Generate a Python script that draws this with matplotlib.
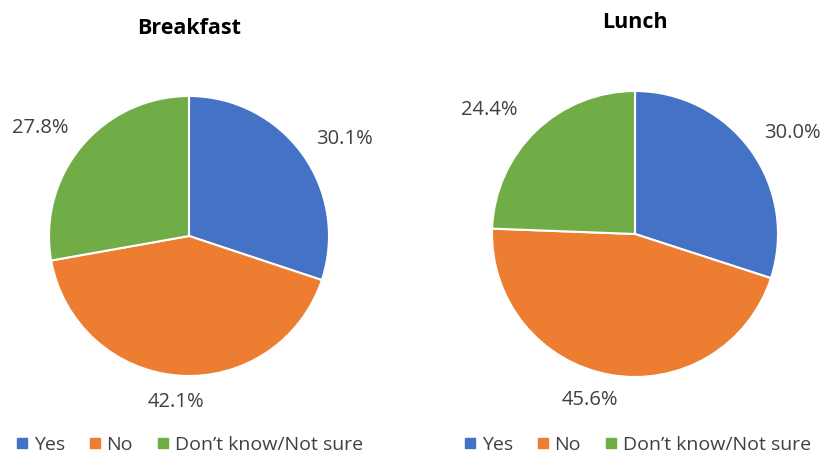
import numpy as np
import matplotlib
matplotlib.use("Agg")
import matplotlib.pyplot as plt
from matplotlib.lines import Line2D

plt.rcParams['font.family'] = ['Open Sans', 'DejaVu Sans']

categories = ["Yes", "No", "Don\u2019t know/Not sure"]
breakfast = [30.1, 42.1, 27.8]
lunch = [30.0, 45.6, 24.4]
titles = ["Breakfast", "Lunch"]
colors = ["#4472C4", "#ED7D31", "#70AD47"]

W, H = 822, 455
fig = plt.figure(figsize=(W / 100, H / 100), dpi=100)

# (center x px, center y px, radius px, label distance factors, label angle offsets (deg),
#  title y px, legend center x px)
layouts = [
    (189, 236, 140, [1.31, 1.19, 1.31], [-3.8, -0.3, 4.0], 28, 190),
    (635, 234, 143, [1.31, 1.20, 1.34], [-3.2, -5.2, 5.8], 22, 638),
]

for vals, title, (cx, cy, r, ldist, loff, ty, lx) in zip([breakfast, lunch], titles, layouts):
    ax = fig.add_axes([(cx - r) / W, 1 - (cy + r) / H, 2 * r / W, 2 * r / H])
    wedges, _ = ax.pie(vals, colors=colors, startangle=90, counterclock=False,
                       wedgeprops=dict(edgecolor="white", linewidth=1.5))
    ax.set_xlim(-1, 1)
    ax.set_ylim(-1, 1)
    ax.set_aspect("equal")
    ax.axis("off")
    for w, v, d, o in zip(wedges, vals, ldist, loff):
        ang = np.deg2rad((w.theta1 + w.theta2) / 2 + o)
        ax.text(d * np.cos(ang), d * np.sin(ang), f"{v:.1f}%",
                ha="center", va="center", fontsize=14.5, color="#404040")
    fig.text(cx / W, 1 - ty / H, title, ha="center", va="center",
             fontsize=15.5, fontweight="bold", color="#000000")
    handles = [Line2D([], [], marker="s", linestyle="none", markersize=7,
                      markerfacecolor=c, markeredgecolor=c) for c in colors]
    fig.legend(handles, categories, loc="center", bbox_to_anchor=(lx / W, 1 - 445 / H),
               ncol=3, frameon=False, fontsize=14, handlelength=0.5,
               handletextpad=0.35, columnspacing=1.3, labelcolor="#404040")

fig.savefig("out.png", dpi=100)
